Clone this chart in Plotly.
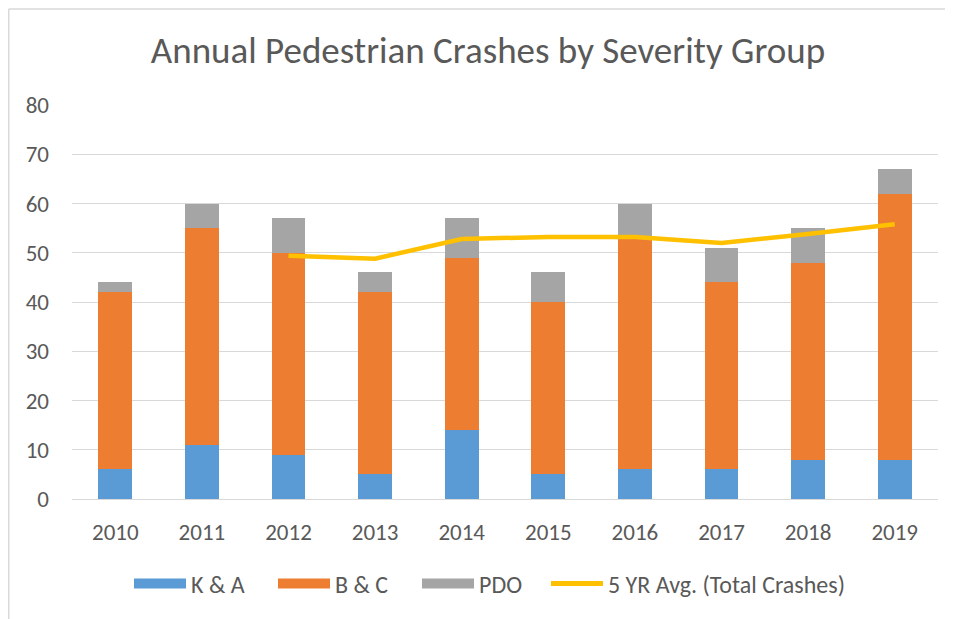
import plotly.graph_objects as go

years = ["2010", "2011", "2012", "2013", "2014", "2015", "2016", "2017", "2018", "2019"]
ka = [6, 11, 9, 5, 14, 5, 6, 6, 8, 8]
bc = [36, 44, 41, 37, 35, 35, 47, 38, 40, 54]
pdo = [2, 5, 7, 4, 8, 6, 7, 7, 7, 5]
avg5 = [None, None, 49.4, 48.8, 52.8, 53.2, 53.2, 52.0, 53.8, 55.8]

FONT = "Carlito, Lato, 'Open Sans', sans-serif"
TXT = "#595959"
GRID = "#d9d9d9"
C_KA, C_BC, C_PDO, C_AVG = "#5b9bd5", "#ed7d31", "#a5a5a5", "#ffc000"

fig = go.Figure()
fig.add_bar(x=years, y=ka, name="K & A", marker=dict(color=C_KA, line=dict(width=0)), showlegend=False)
fig.add_bar(x=years, y=bc, name="B & C", marker=dict(color=C_BC, line=dict(width=0)), showlegend=False)
fig.add_bar(x=years, y=pdo, name="PDO", marker=dict(color=C_PDO, line=dict(width=0)), showlegend=False)
fig.add_scatter(x=years, y=avg5, name="5 YR Avg. (Total Crashes)", mode="lines",
                line=dict(color=C_AVG, width=4.5), showlegend=False)

# legend entries (wide rectangle swatches like the original)
for nm, col, w, lg in [("K & A", C_KA, 14, "legend"), ("B & C", C_BC, 14, "legend"),
                       ("PDO", C_PDO, 14, "legend"),
                       ("5 YR Avg. (Total Crashes)", C_AVG, 5, "legend2")]:
    fig.add_scatter(x=[None], y=[None], mode="lines", name=nm, line=dict(color=col, width=w),
                    showlegend=True, hoverinfo="skip", legend=lg)

# page has an 8px body margin; lay out so that page position = figure position + 8
L, T, PW, PH = 64, 97, 866, 394
leg_y = (T + PH - 576) / PH
fig.update_layout(
    width=953, height=619,
    barmode="stack", bargap=0.61,
    paper_bgcolor="white", plot_bgcolor="white",
    margin=dict(l=L, r=953 - L - PW, t=T, b=619 - T - PH, autoexpand=False),
    font=dict(family=FONT, color=TXT, size=23),
    title=dict(text="Annual Pedestrian Crashes by Severity Group", x=480 / 953, xanchor="center",
               y=1 - 42 / 619, yanchor="middle", font=dict(size=37, color=TXT, family=FONT)),
    showlegend=True,
    legend=dict(orientation="h", x=(129 - 8 - L) / PW, xanchor="left",
                y=leg_y, yanchor="middle",
                font=dict(size=24, color=TXT), traceorder="normal", itemwidth=52,
                entrywidth=77, entrywidthmode="pixels"),
    legend2=dict(orientation="h", x=(546 - 8 - L) / PW, xanchor="left",
                 y=leg_y, yanchor="middle",
                 font=dict(size=24, color=TXT), itemwidth=52),
    xaxis=dict(type="category", showgrid=False, showline=True, linecolor=GRID, linewidth=1,
               ticks="", tickfont=dict(size=23, color=TXT), ticklabelstandoff=12),
    yaxis=dict(range=[0, 80], dtick=10, showgrid=True, gridcolor=GRID, gridwidth=1,
               zeroline=False, showline=False, ticks="", tickfont=dict(size=23, color=TXT),
               ticklabelstandoff=22),
)
top_y = (T + PH - 1) / PH
left_x = (0.75 - L) / PW
fig.add_shape(type="line", xref="paper", yref="paper", x0=left_x, x1=(953 - L) / PW,
              y0=top_y, y1=top_y, line=dict(color=GRID, width=1.5))
fig.add_shape(type="line", xref="paper", yref="paper", x0=left_x, x1=left_x,
              y0=top_y, y1=(T + PH - 619) / PH, line=dict(color=GRID, width=1.5))

fig.write_html("out.html")
